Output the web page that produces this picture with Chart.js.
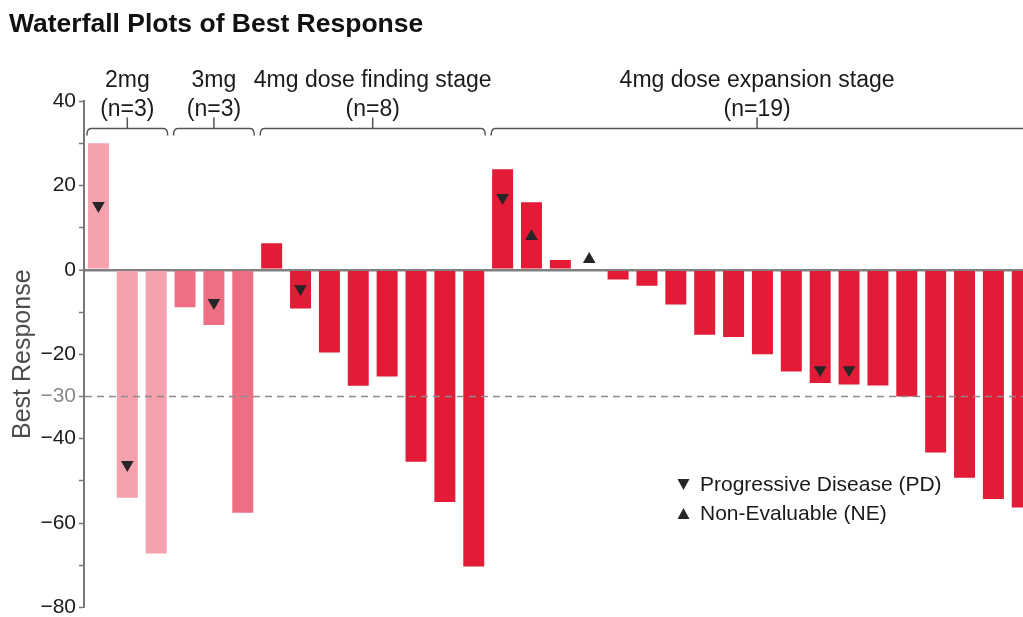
<!DOCTYPE html>
<html>
<head>
<meta charset="utf-8">
<script src="https://cdn.jsdelivr.net/npm/chart.js@4.4.1/dist/chart.umd.min.js"></script>
<style>
  html, body { margin: 0; padding: 0; background: #fff; overflow: hidden; }
  #wrap { position: relative; width: 1044px; height: 623px; }
</style>
</head>
<body>
<div id="wrap"><canvas id="graficoWaterfall"></canvas></div>
<script>
// one bar per patient
const pacientes = ['P1','P2','P3','P4','P5','P6','P7','P8','P9','P10','P11','P12','P13','P14','P15','P16','P17',
                   'P18','P19','P20','P21','P22','P23','P24','P25','P26','P27','P28','P29','P30','P31','P32','P33']
const melhorResposta = [30, -54, -67.2, -8.9, -13.1, -57.6, 6.3, -9.2, -19.6, -27.5, -25.3, -45.5, -55, -70.3,
                        23.8, 16, 2.3, 0, -2.3, -3.8, -8.2, -15.4, -15.9, -20, -24.1, -26.8, -27.2, -27.4, -30,
                        -43.3, -49.3, -54.3, -56.3]
// markers (null = no marker)
const marcasPD = [15.2, -46.2, null, null, -7.8, null, null, -4.5, null, null, null, null, null, null,
                  17.1, null, null, null, null, null, null, null, null, null, null, -23.7, -23.7, null, null,
                  null, null, null, null]
const marcasNE = [null, null, null, null, null, null, null, null, null, null, null, null, null, null,
                  null, 7.9, null, 2.5, null, null, null, null, null, null, null, null, null, null, null,
                  null, null, null, null]

const gruposNome = ['2mg', '3mg', '4mg dose finding stage', '4mg dose expansion stage']
const gruposN = ['(n=3)', '(n=3)', '(n=8)', '(n=19)']
const gruposTamanho = [3, 3, 8, 19]
const gruposCor = ['#F4A2AD', '#EE6E84', '#E31B37', '#E31B37']

const linhaCorte = -30
const ticksMaiores = [40, 20, 0, -20, -40, -60, -80, -30]

const fonte = '"Liberation Sans", Arial, Helvetica, sans-serif'
const visivel = 1023

let coresBarras = []
gruposTamanho.forEach((tam, g) => {
    for (let i = 0; i < tam; i++) coresBarras.push(gruposCor[g])
})

const percBarra = 0.727

function menos(v) {
    return String(v).replace('-', '\u2212')
}

function trianguloLegenda(ctx, cx, cy, paraBaixo) {
    ctx.beginPath()
    if (paraBaixo) {
        ctx.moveTo(cx - 6, cy - 5.5)
        ctx.lineTo(cx + 6, cy - 5.5)
        ctx.lineTo(cx, cy + 5.5)
    } else {
        ctx.moveTo(cx - 6, cy + 5.5)
        ctx.lineTo(cx + 6, cy + 5.5)
        ctx.lineTo(cx, cy - 5.5)
    }
    ctx.closePath()
    ctx.fill()
}

const desenhoExtra = {
    id: 'desenhoExtra',
    afterDraw(chart) {
        const {ctx, chartArea, scales: {x, y}} = chart
        ctx.save()

        // titulo
        ctx.fillStyle = '#111'
        ctx.font = 'bold 26.5px ' + fonte
        ctx.textAlign = 'left'
        ctx.textBaseline = 'alphabetic'
        ctx.fillText('Waterfall Plots of Best Response', 9, 32)

        // linha de corte -30
        const yCorte = y.getPixelForValue(linhaCorte)
        ctx.strokeStyle = '#8c8c8c'
        ctx.lineWidth = 1.5
        ctx.setLineDash([7, 5])
        ctx.beginPath()
        ctx.moveTo(chartArea.left + 1, yCorte)
        ctx.lineTo(chartArea.right, yCorte)
        ctx.stroke()
        ctx.setLineDash([])

        // chaves dos grupos
        const passo = x.getPixelForValue(1) - x.getPixelForValue(0)
        const meia = passo * percBarra / 2
        const yChave = 128.5
        let inicio = 0
        ctx.strokeStyle = '#555'
        ctx.lineWidth = 1.5
        ctx.fillStyle = '#1a1a1a'
        ctx.textAlign = 'center'
        gruposTamanho.forEach((tam, g) => {
            const fim = inicio + tam - 1
            const esq = x.getPixelForValue(inicio) - meia - 1
            const dir = x.getPixelForValue(fim) + meia + 1
            const meio = (esq + Math.min(dir, visivel)) / 2

            ctx.beginPath()
            ctx.moveTo(esq, yChave + 7)
            ctx.quadraticCurveTo(esq, yChave, esq + 4, yChave)
            ctx.lineTo(dir - 4, yChave)
            ctx.quadraticCurveTo(dir, yChave, dir, yChave + 7)
            ctx.moveTo(meio, yChave)
            ctx.lineTo(meio, yChave - 11)
            ctx.stroke()

            ctx.font = '23px ' + fonte
            ctx.fillText(gruposNome[g], meio, 87)
            ctx.fillText(gruposN[g], meio, 116)
            inicio += tam
        })

        // legenda
        ctx.fillStyle = '#262626'
        trianguloLegenda(ctx, 683.5, 484.5, true)
        trianguloLegenda(ctx, 683.5, 513.5, false)
        ctx.fillStyle = '#1a1a1a'
        ctx.font = '21px ' + fonte
        ctx.textAlign = 'left'
        ctx.textBaseline = 'middle'
        ctx.fillText('Progressive Disease (PD)', 700, 485)
        ctx.fillText('Non-Evaluable (NE)', 700, 514)

        ctx.restore()
    }
}

window.graficoWaterfall = new Chart(document.getElementById('graficoWaterfall'), {
    type: 'bar',
    data: {
        labels: pacientes,
        datasets: [{
            type: 'line',
            label: 'PD',
            data: marcasPD,
            showLine: false,
            pointStyle: 'triangle',
            rotation: 180,
            pointRadius: 7.3,
            pointBackgroundColor: '#262626',
            pointBorderWidth: 0,
            order: 0
        }, {
            type: 'line',
            label: 'NE',
            data: marcasNE,
            showLine: false,
            pointStyle: 'triangle',
            pointRadius: 7.3,
            pointBackgroundColor: '#262626',
            pointBorderWidth: 0,
            order: 0
        }, {
            label: 'Best Response',
            data: melhorResposta,
            backgroundColor: coresBarras,
            borderWidth: 0,
            categoryPercentage: 1,
            barPercentage: percBarra,
            order: 1
        }]
    },
    options: {
        responsive: true,
        maintainAspectRatio: false,
        animation: false,
        layout: {
            padding: {top: 101, right: 0, bottom: 0, left: 0}
        },
        plugins: {
            legend: {display: false},
            tooltip: {enabled: false},
            title: {display: false}
        },
        scales: {
            x: {
                display: false,
                offset: true
            },
            y: {
                min: -80,
                max: 40,
                afterFit: function (scale) {
                    scale.width = 84
                },
                ticks: {
                    stepSize: 10,
                    autoSkip: false,
                    padding: 3,
                    font: {family: fonte, size: 21},
                    color: (c) => (c.tick && c.tick.value === linhaCorte) ? '#8a8a8a' : '#1a1a1a',
                    callback: function (value) {
                        return ticksMaiores.includes(value) ? menos(value) : ''
                    }
                },
                grid: {
                    drawOnChartArea: true,
                    color: (c) => (c.tick && c.tick.value === 0) ? '#808080' : 'rgba(0,0,0,0)',
                    lineWidth: (c) => (c.tick && c.tick.value === 0) ? 2.5 : 1,
                    tickColor: '#777',
                    tickLength: 5,
                    tickWidth: 1.5
                },
                border: {
                    display: true,
                    color: '#777',
                    width: 2
                },
                title: {
                    display: true,
                    text: 'Best Response',
                    color: '#4d4d4d',
                    font: {family: fonte, size: 25},
                    padding: {top: 8, bottom: 0}
                }
            }
        }
    },
    plugins: [desenhoExtra]
})
</script>
</body>
</html>
